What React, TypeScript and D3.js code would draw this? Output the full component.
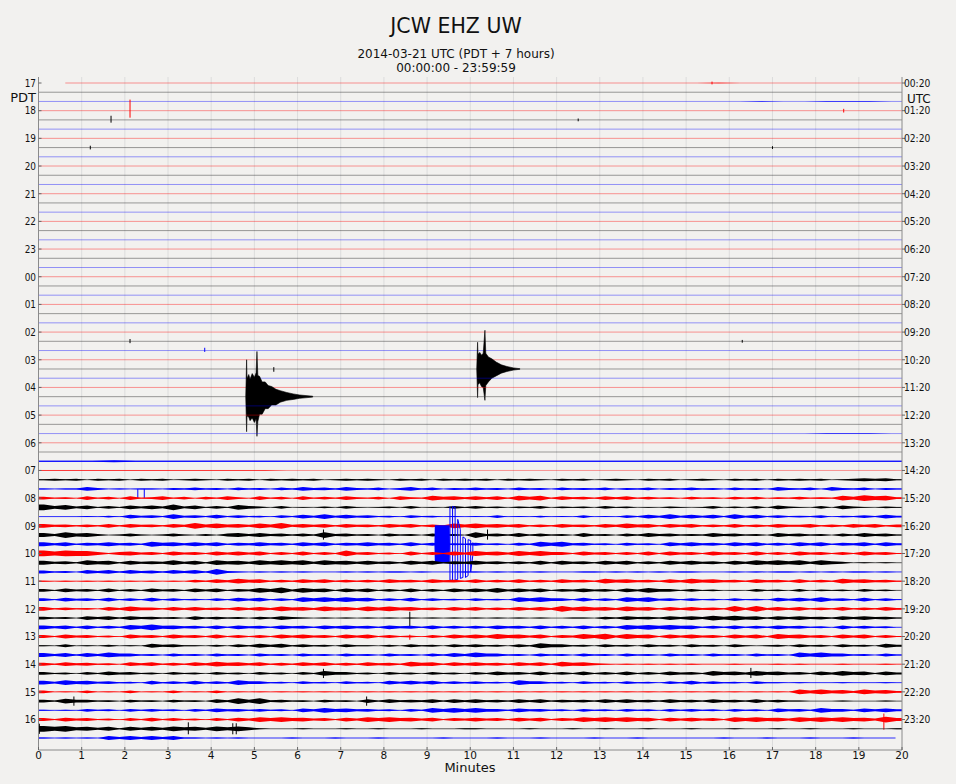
import React from "react";
import * as d3 from "d3";

// ---------------- DATA ----------------
const title = "JCW EHZ UW";
const subtitle1 = "2014-03-21 UTC (PDT + 7 hours)";
const subtitle2 = "00:00:00 - 23:59:59";
const xAxisLabel = "Minutes";

const pdtLabels = ["17","18","19","20","21","22","23","00","01","02","03","04","05","06","07","08","09","10","11","12","13","14","15","16"];
const utcLabels = ["00:20","01:20","02:20","03:20","04:20","05:20","06:20","07:20","08:20","09:20","10:20","11:20","12:20","13:20","14:20","15:20","16:20","17:20","18:20","19:20","20:20","21:20","22:20","23:20"];
const minuteTicks = [0,1,2,3,4,5,6,7,8,9,10,11,12,13,14,15,16,17,18,19,20];
const traceColors = ["#ff0000", "#000000", "#0000ff"]; // cycle per trace: red, black, blue

// noise envelope level along each 20-minute trace (evenly spaced samples), 0..9
const QUIET = "0000000000 0000000000 0000000000 0000000000";
const noiseLevels = [
  "0000000000 0000000000 0000000000 0100000000", // 0 red 17
  QUIET,                                          // 1 black
  "0000000000 0000000000 0000000000 0001001110", // 2 blue
  QUIET,                                          // 3 red 18
  QUIET,                                          // 4 black
  QUIET, QUIET, QUIET, QUIET, QUIET,              // 5..9
  QUIET, QUIET, QUIET, QUIET, QUIET,              // 10..14
  QUIET, QUIET, QUIET, QUIET, QUIET,              // 15..19
  QUIET, QUIET, QUIET, QUIET, QUIET,              // 20..24
  QUIET, QUIET, QUIET, QUIET, QUIET,              // 25..29
  QUIET, QUIET, QUIET, QUIET, QUIET,              // 30..34
  QUIET, QUIET, QUIET,                            // 35..37
  "0000000000 0000000000 0000000000 0000001110", // 38 blue
  QUIET,                                          // 39 red 06
  QUIET,                                          // 40 black
  "1112111111 1111111111 1111111111 1111111111", // 41 blue
  "1111111111 1000000000 0000000000 0000000000", // 42 red 07
  "1212021202 1201210212 0212120121 2102120212 1202121021 2012102120 1210212021 2120123231", // 43 black
  "1011420101 1021312031 2031423142 1302413021 3120312031 2130213021 3120312042 1304213021", // 44 blue
  "3120413041 2413031420 4130413142 1304215342 4241535142 3142413120 3120313021 3121536452", // 45 red 08
  "6352413142 4262413153 2030102031 0120301031 3120213021 2031201021 0130203042 1030421021", // 46 black
  "0000102042 3152314131 2031425242 3120312010 1030102010 3010314252 4241524131 2130213142", // 47 blue
  "4231314142 3142635342 5362424142 3142413153 5342413142 3142534142 4131413142 2413142413", // 48 red 09
  "4263420131 0131020342 4231316231 2031203120 6231413120 4120314231 2142312042 3120314231", // 49 black
  "4241324231 5342424132 4231424132 4231413021 3120315352 3120312042 4231424131 4241324142", // 50 blue
  "6465531342 3142314242 4131413162 3120413142 5342535331 4231314142 3142314131 4231314231", // 51 red 10
  "4231534142 3252415342 5353525342 4231424132 4231314142 3142413142 4231425353 5253201010", // 52 black
  "3120424142 3142416210 1010100010 1011010001 1010101000 1101010101 1000101011 0101011010", // 53 blue
  "1010101010 1010314253 4131424131 3142314231 4131413142 3153423142 5342314231 4131534231", // 54 red 11
  "3142314131 4231424132 5362534142 4131413142 4252424132 4231425331 3120103120 3021203120", // 55 black
  "3142314131 4131203142 4131535353 4131413120 3120535331 4131535231 3120312042 4252314131", // 56 blue
  "4131204253 3142423142 4253425342 5353423142 4131424263 5342534142 4231626242 4131413142", // 57 red 12
  "3120424142 3120413120 3142101010 1010101010 1010101001 1031423142 4253534142 4231424231", // 58 black
  "4241413153 6342314142 3142314242 3142314131 3142314131 4131535353 4131413142 3120413120", // 59 blue
  "3142312042 3142314131 3142423142 4131203142 4253424132 5362534142 4231424153 4231424131", // 60 red 13
  "1030102010 4231102031 4241312031 1020312031 3120315331 2031203120 3120310120 3120312042", // 61 black
  "4241425331 2031203120 3120312031 2031203142 5331203120 3120312031 2031203120 5353312031", // 62 blue
  "3142312042 4131425342 4131424131 4231534142 4231424153 4210101010 1000100010 1000100010", // 63 red 14
  "3120314231 2031203120 3120315331 2031203120 3142314131 4131413142 3153425342 3142534142", // 64 black
  "4253423120 4131413153 3120312031 2042424131 3120533120 3120312031 4131203110 1000100010", // 65 blue
  "3010301030 1030103010 1010101010 1010101010 1010101010 1010101010 1010101010 5353425342", // 66 red 15
  "3153312031 2031204263 6231203120 4142324142 4231424132 3142423142 3142314131 1000100010", // 67 black
  "1010312031 3120314231 3120425342 3120315353 5331423120 3120312031 3120312042 3153314242", // 68 blue
  "3142312031 4131203142 5353423142 5353424132 4231424132 5353534142 4231535342 5353534263", // 69 red 16
  "6463424142 4253425353 1000100010 0100010001 1000010001 0010001000 1000100010 0100010001", // 70 black
  "1010104242 4241101010 0001000100 0100000100 0010001000 0100010000 0001000100 0100010000", // 71 blue
];

// data coverage (minutes) where it differs from 0..20
const traceStartMin = [{ trace: 0, min: 0.62 }];
const traceEndMin = [{ trace: 71, min: 19.85 }];

// isolated spikes: [trace, minute, up, down] (in trace-spacing units)
const spikes: [number, number, number, number][] = [
  [0, 15.6, 0.15, 0.15],
  [3, 2.12, 1.2, 0.76],
  [3, 18.65, 0.2, 0.2],
  [4, 1.68, 0.45, 0.3],
  [4, 12.5, 0.15, 0.15],
  [7, 1.2, 0.2, 0.2],
  [7, 17.0, 0.15, 0.15],
  [28, 2.12, 0.25, 0.2],
  [28, 16.3, 0.15, 0.15],
  [29, 3.85, 0.3, 0.15],
  [31, 5.45, 0.2, 0.3],
  [44, 2.3, 0, 1.0],
  [44, 2.45, 0, 1.0],
  [49, 6.6, 0.6, 0.5],
  [49, 10.4, 0.6, 0.5],
  [58, 8.6, 0.68, 0.94],
  [60, 8.6, 0.2, 0.35],
  [64, 6.6, 0.5, 0.5],
  [64, 16.5, 0.6, 0.5],
  [67, 0.82, 0.5, 0.5],
  [67, 7.6, 0.5, 0.5],
  [69, 19.58, 0.65, 1.1],
  [70, 0.02, 0.55, 0.55],
  [70, 3.47, 0.7, 0.6],
  [70, 4.5, 0.6, 0.6],
  [70, 4.58, 0.6, 0.6],
];

// earthquakes: envelope points [minute, up, down] (trace-spacing units)
const quake1Trace = 34;
const quake1Env: [number, number, number][] = [
  [4.80, 0, 0], [4.82, 4.0, 3.8], [4.83, 2.0, 2.1], [4.87, 2.4, 2.2], [4.9, 1.9, 2.6],
  [4.95, 2.5, 2.3], [5.0, 2.1, 2.8], [5.04, 2.6, 2.4], [5.06, 4.9, 4.3], [5.08, 2.3, 2.7],
  [5.12, 2.2, 1.9], [5.18, 1.6, 1.9], [5.25, 1.6, 1.3], [5.32, 1.2, 1.3], [5.4, 1.1, 0.9],
  [5.5, 0.8, 0.9], [5.6, 0.65, 0.6], [5.75, 0.45, 0.4], [5.9, 0.3, 0.3], [6.05, 0.18, 0.18],
  [6.35, 0.05, 0.05],
];
const quake2Trace = 31;
const quake2Env: [number, number, number][] = [
  [10.15, 0, 0], [10.17, 2.9, 3.1], [10.18, 1.6, 1.7], [10.22, 1.8, 1.5], [10.26, 1.5, 1.9],
  [10.3, 1.7, 2.0], [10.34, 4.2, 3.4], [10.36, 1.7, 1.8], [10.42, 1.3, 1.4], [10.5, 1.1, 1.0],
  [10.6, 0.75, 0.75], [10.72, 0.45, 0.45], [10.85, 0.27, 0.27], [11.0, 0.12, 0.12], [11.15, 0.03, 0.03],
];

// clipped blue glitch on trace 50
const glitchTrace = 50;
const glitchBlock: [number, number, number][] = [
  [9.17, 0, 0], [9.18, 2.06, 2.06], [9.52, 2.06, 2.06], [9.53, 0, 0],
];
// square-wave lines: [minute, top(up), bottom(down, negative)]
const glitchWave: [number, number, number][] = [
  [9.53, 4.1, -3.9], [9.59, 4.1, -3.9], [9.65, 4.0, -3.9], [9.71, 2.7, -3.8], [9.77, 1.6, -3.7],
  [9.83, 0.8, -3.6], [9.89, 0.6, -3.6], [9.95, 0.5, -3.4], [10.01, 0.4, -3.0], [10.06, 0.2, -1.2],
];

// ---------------- LAYOUT ----------------
const W = 956;
const H = 784;
const left = 38.5;
const right = 902;
const topTrace = 83;
const bottomTrace = 738;
const plotTop = 77;
const plotBottom = 750;
const LEVEL = 0.052;
const FONT = "'DejaVu Sans', Verdana, sans-serif";

const x = d3.scaleLinear().domain([0, 20]).range([left, right]);
const y = d3.scaleLinear().domain([0, 71]).range([topTrace, bottomTrace]);
const spacing = (bottomTrace - topTrace) / 71;
const amp = d3.scaleLinear().domain([0, 1]).range([0, spacing]);

function Label(props: { x: number; y: number; size: number; sx?: number; anchor?: string; children: any }) {
  const { x: lx, y: ly, size, sx = 1, anchor = "middle", children } = props;
  return (
    <text
      transform={`translate(${lx},${ly}) scale(${sx},1)`}
      textAnchor={anchor as any}
      fontFamily={FONT}
      fontSize={size}
      fill="#111"
    >
      {children}
    </text>
  );
}

function tracePaths(i: number) {
  const base = y(i);
  const color = traceColors[i % 3];
  const lv = noiseLevels[i].replace(/\s/g, "");
  const n = lv.length;
  const step = 20 / n;
  const s = traceStartMin.find((d) => d.trace === i);
  const e = traceEndMin.find((d) => d.trace === i);
  const m0 = s ? s.min : 0;
  const m1 = e ? e.min : 20;
  const levelAt = (m: number) => +lv[Math.min(n - 1, Math.max(0, Math.floor(m / step)))];
  const pts: [number, number][] = [[m0, levelAt(m0)]];
  for (let k = 0; k < n; k++) {
    const m = (k + 0.5) * step;
    if (m > m0 && m < m1) pts.push([m, +lv[k]]);
  }
  pts.push([m1, levelAt(m1 - 0.001)]);
  const noisy = pts.some((p) => p[1] >= 2);

  const area = d3
    .area<[number, number]>()
    .x((d) => x(d[0]))
    .y0((d) => base + amp(d[1] * LEVEL))
    .y1((d) => base - amp(d[1] * LEVEL));
  const line = d3
    .line<[number, number]>()
    .x((d) => x(d[0]))
    .y(() => base);

  const envArea = d3
    .area<[number, number, number]>()
    .x((d) => x(d[0]))
    .y0((d) => base + amp(d[2]))
    .y1((d) => base - amp(d[1]));

  const isBlack = i % 3 === 1;
  const lineColor = isBlack ? "#333" : color;
  const lineOpacity = noisy ? 0.9 : isBlack ? 0.6 : 0.5;

  const els: any[] = [];
  els.push(<path key={`l${i}`} d={line([[m0, 0], [m1, 0]]) || ""} stroke={lineColor} strokeOpacity={lineOpacity} strokeWidth={noisy ? 0.9 : 0.8} fill="none" />);
  els.push(<path key={`a${i}`} d={area(pts) || ""} fill={color} fillOpacity={noisy ? 1 : 0.6} stroke="none" />);
  spikes
    .filter((sp) => sp[0] === i)
    .forEach((sp, j) => {
      els.push(
        <line key={`s${i}-${j}`} x1={x(sp[1])} x2={x(sp[1])} y1={base - amp(sp[2])} y2={base + amp(sp[3])} stroke={color} strokeWidth={1} />
      );
    });
  if (i === quake1Trace) els.push(<path key="q1" d={envArea(quake1Env) || ""} fill={color} stroke={color} strokeWidth={0.6} />);
  if (i === quake2Trace) els.push(<path key="q2" d={envArea(quake2Env) || ""} fill={color} stroke={color} strokeWidth={0.6} />);
  if (i === glitchTrace) {
    els.push(<path key="gb" d={envArea(glitchBlock) || ""} fill={color} stroke="none" />);
    let d = "";
    glitchWave.forEach((g, j) => {
      const gx = x(g[0]);
      const ya = base - amp(g[1]);
      const yb = base - amp(g[2]);
      if (j % 2 === 0) d += `${j === 0 ? "M" : "L"}${gx},${ya}L${gx},${yb}`;
      else d += `L${gx},${yb}L${gx},${ya}`;
    });
    els.push(<path key="gw" d={d} fill="none" stroke={color} strokeWidth={1} />);
  }
  return els;
}

export default function App() {
  const traces = d3.range(noiseLevels.length);
  return (
    <svg
      width={W}
      height={H}
      viewBox={`0 0 ${W} ${H}`}
      style={{ position: "absolute", left: 0, top: 0, display: "block" }}
    >
      <rect x={0} y={0} width={W} height={H} fill="#f2f1ef" />
      {/* grid */}
      {minuteTicks.slice(1, -1).map((m) => (
        <line key={`g${m}`} x1={x(m)} x2={x(m)} y1={plotTop} y2={plotBottom} stroke="#dcdcdc" strokeWidth={1} />
      ))}
      {/* traces */}
      {traces.map((i) => (
        <g key={`t${i}`}>{tracePaths(i)}</g>
      ))}
      {/* spines */}
      <line x1={left} x2={left} y1={plotTop} y2={plotBottom} stroke="#8a8a8a" strokeWidth={1} />
      <line x1={right} x2={right} y1={plotTop} y2={plotBottom} stroke="#8a8a8a" strokeWidth={1} />
      <line x1={left} x2={right} y1={plotBottom} y2={plotBottom} stroke="#8a8a8a" strokeWidth={1} />
      {/* ticks */}
      {minuteTicks.map((m) => (
        <line key={`xt${m}`} x1={x(m)} x2={x(m)} y1={plotBottom} y2={plotBottom - 3} stroke="#666" strokeWidth={1} />
      ))}
      {pdtLabels.map((_, h) => (
        <g key={`yt${h}`}>
          <line x1={left} x2={left + 3} y1={y(h * 3)} y2={y(h * 3)} stroke="#666" strokeWidth={1} />
          <line x1={right} x2={right + 3} y1={y(h * 3)} y2={y(h * 3)} stroke="#666" strokeWidth={1} />
        </g>
      ))}
      {/* labels */}
      <Label x={456} y={33} size={20.5}>{title}</Label>
      <Label x={456} y={57.5} size={12}>{subtitle1}</Label>
      <Label x={456} y={71.5} size={12}>{subtitle2}</Label>
      {pdtLabels.map((t, h) => (
        <Label key={`pl${h}`} x={36} y={y(h * 3) + 3.8} size={10.5} sx={0.85} anchor="end">{t}</Label>
      ))}
      {utcLabels.map((t, h) => (
        <Label key={`ul${h}`} x={904} y={y(h * 3) + 3.8} size={10.5} sx={0.87} anchor="start">{t}</Label>
      ))}
      <Label x={36} y={102} size={13} anchor="end">PDT</Label>
      <Label x={907} y={102.5} size={13} sx={0.92} anchor="start">UTC</Label>
      {minuteTicks.map((m) => (
        <Label key={`xl${m}`} x={x(m)} y={758.5} size={10.5}>{String(m)}</Label>
      ))}
      <Label x={470} y={772} size={13}>{xAxisLabel}</Label>
    </svg>
  );
}
